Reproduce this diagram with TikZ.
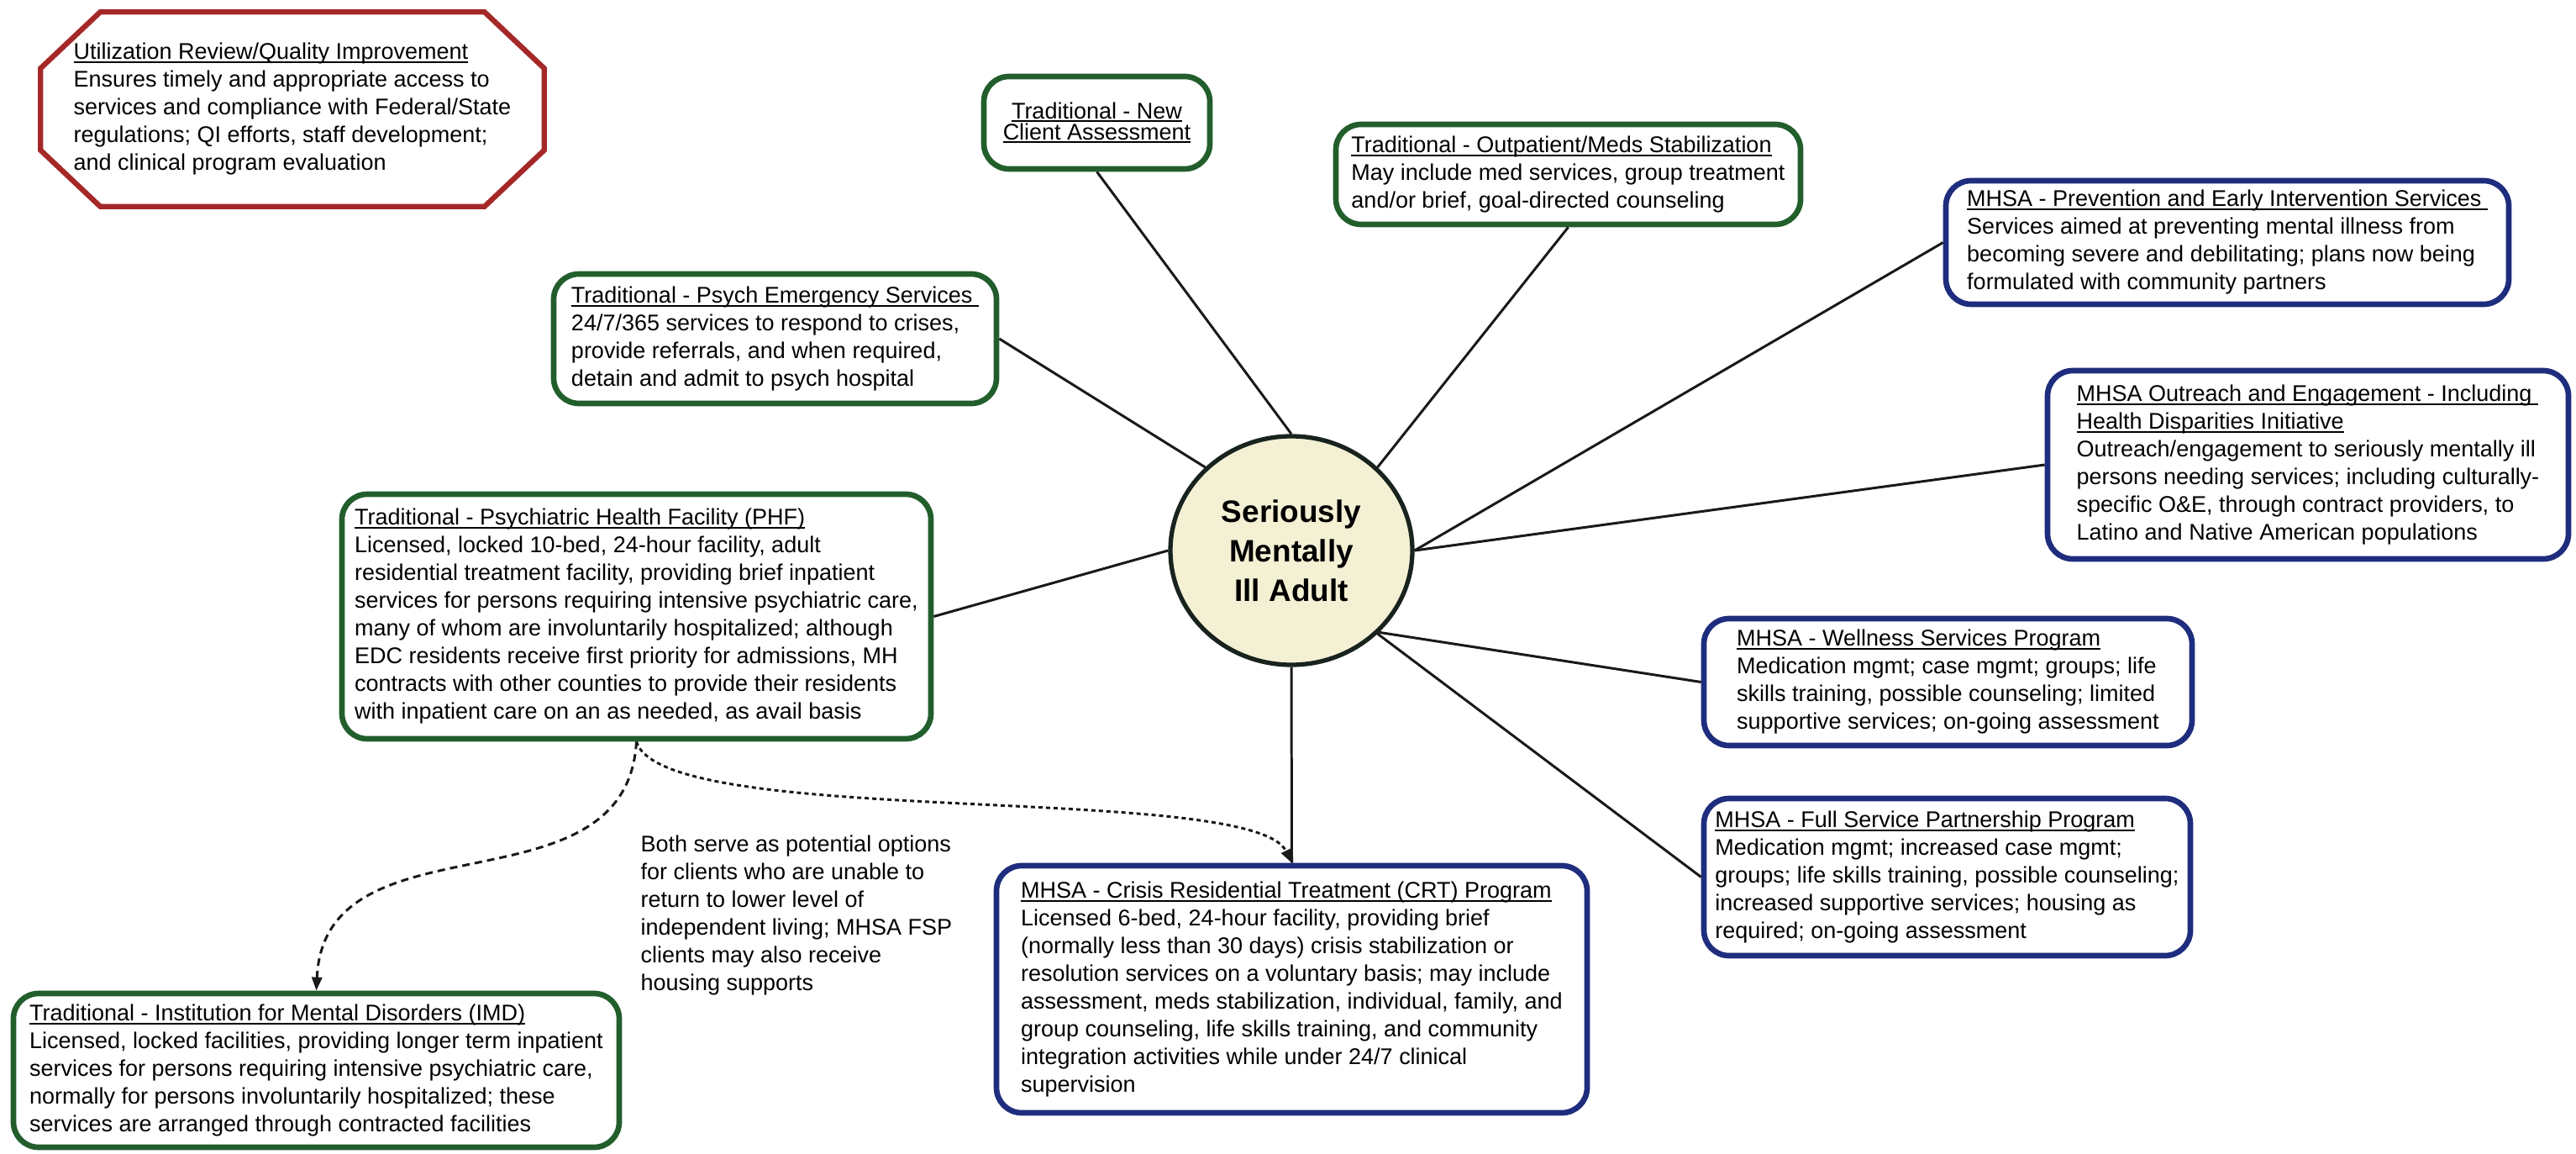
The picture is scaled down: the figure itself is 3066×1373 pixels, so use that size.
\documentclass[tikz,border=0pt]{standalone}
\usepackage{fontspec}
\setmainfont{Liberation Sans}
\usetikzlibrary{shapes.geometric,arrows.meta,calc}
\definecolor{bxgreen}{RGB}{34,94,44}
\definecolor{bxblue}{RGB}{30,45,125}
\definecolor{bxred}{RGB}{165,40,40}
\definecolor{hubfill}{RGB}{243,240,212}
\definecolor{hubline}{RGB}{25,35,30}
\newsavebox\ttlbox
\newcommand\ttl[1]{\sbox\ttlbox{#1}\rlap{\rule[-1.2pt]{\wd\ttlbox}{0.6pt}}\usebox\ttlbox}
\tikzset{
  txt/.style={font=\fontsize{7.68pt}{9.39pt}\selectfont, align=left},
  gbox/.style={txt, draw=bxgreen, line width=1.9pt, rounded corners=3mm, fill=white, inner sep=0pt},
  bbox/.style={txt, draw=bxblue, line width=1.9pt, rounded corners=3mm, fill=white, inner sep=0pt},
  octo/.style={draw=bxred, line width=1.8pt, line join=miter},
  conn/.style={draw=black!90, line width=0.85pt},
  dshA/.style={draw=black!90, line width=0.85pt, dash pattern=on 0.9mm off 0.6mm, -{Triangle[length=1.6mm,width=1.2mm]}},
  dshB/.style={draw=black!90, line width=0.85pt, dash pattern=on 0.5mm off 0.4mm, -{Triangle[length=1.6mm,width=1.2mm]}},
  hub/.style={ellipse, draw=hubline, line width=1.5pt, fill=hubfill, inner sep=0pt,
     minimum width=28.8mm, minimum height=27.2mm, align=center,
     font=\fontsize{10.5pt}{13.37pt}\selectfont\bfseries}
}
\begin{document}
\begin{tikzpicture}[x=0.1mm, y=-0.1mm]
\useasboundingbox (0,0) rectangle (3066,1373);
\fill[white] (0,0) rectangle (3066,1373);

% Utilization review octagon
\node[txt, minimum width=59.8mm, minimum height=23.0mm, inner sep=0pt] (ur) at (348,130) {%
\ttl{Utilization Review/Quality Improvement}\\
Ensures timely and appropriate access to\\
services and compliance with Federal/State\\
regulations; QI efforts, staff development;\\
and clinical program evaluation};
\draw[octo] ([xshift=7.1mm]ur.north west) -- ([xshift=-7.1mm]ur.north east)
  -- ([yshift=-6.7mm]ur.north east) -- ([yshift=6.7mm]ur.south east)
  -- ([xshift=-7.1mm]ur.south east) -- ([xshift=7.1mm]ur.south west)
  -- ([yshift=6.7mm]ur.south west) -- ([yshift=-6.7mm]ur.north west) -- cycle;

% hub
\node[hub] (c) at (1537,655) {Seriously\\Mentally\\Ill Adult};

% traditional (green) boxes
\node[gbox, align=center, font=\fontsize{7.68pt}{7.11pt}\selectfont, minimum width=26.9mm, minimum height=11.0mm] (ne) at (1305.5,146) {%
\ttl{Traditional - New}\\\ttl{Client Assessment}};

\node[gbox, minimum width=55.3mm, minimum height=11.9mm] (op) at (1866.5,207.5) {%
\ttl{Traditional - Outpatient/Meds Stabilization}\\
May include med services, group treatment\\
and/or brief, goal-directed counseling};

\node[gbox, minimum width=52.7mm, minimum height=15.4mm] (pe) at (922.5,403) {%
\ttl{Traditional - Psych Emergency Services\ }\\
24/7/365 services to respond to crises,\\
provide referrals, and when required,\\
detain and admit to psych hospital};

\node[gbox, minimum width=70.1mm, minimum height=29.1mm] (phf) at (757.5,733.5) {%
\ttl{Traditional - Psychiatric Health Facility (PHF)}\\
Licensed, locked 10-bed, 24-hour facility, adult\\
residential treatment facility, providing brief inpatient\\
services for persons requiring intensive psychiatric care,\\
many of whom are involuntarily hospitalized; although\\
EDC residents receive first priority for admissions, MH\\
contracts with other counties to provide their residents\\
with inpatient care on an as needed, as avail basis};

\node[gbox, minimum width=72.1mm, minimum height=18.3mm] (imd) at (376.5,1273.5) {%
\ttl{Traditional - Institution for Mental Disorders (IMD)}\\
Licensed, locked facilities, providing longer term inpatient\\
services for persons requiring intensive psychiatric care,\\
normally for persons involuntarily hospitalized; these\\
services are arranged through contracted facilities};

% MHSA (blue) boxes
\node[bbox, minimum width=70.3mm, minimum height=29.4mm] (crt) at (1537.5,1177) {%
\ttl{MHSA - Crisis Residential Treatment (CRT) Program}\\
Licensed 6-bed, 24-hour facility, providing brief\\
(normally less than 30 days) crisis stabilization or\\
resolution services on a voluntary basis; may include\\
assessment, meds stabilization, individual, family, and\\
group counseling, life skills training, and community\\
integration activities while under 24/7 clinical\\
supervision};

\node[bbox, minimum width=67.0mm, minimum height=14.7mm] (prev) at (2651,288.5) {%
\ttl{MHSA - Prevention and Early Intervention Services\ }\\
Services aimed at preventing mental illness from\\
becoming severe and debilitating; plans now being\\
formulated with community partners};

\node[bbox, minimum width=62.0mm, minimum height=22.4mm] (out) at (2747,553) {%
\ttl{MHSA Outreach and Engagement - Including\ }\\
\ttl{Health Disparities Initiative}\\
Outreach/engagement to seriously mentally ill\\
persons needing services; including culturally-\\
specific O\&E, through contract providers, to\\
Latino and Native American populations};

\node[bbox, minimum width=58.1mm, minimum height=15.1mm] (well) at (2318.5,811.5) {%
\ttl{MHSA - Wellness Services Program}\\
Medication mgmt; case mgmt; groups; life\\
skills training, possible counseling; limited\\
supportive services; on-going assessment};

\node[bbox, minimum width=57.9mm, minimum height=18.7mm] (fsp) at (2317.5,1043.5) {%
\ttl{MHSA - Full Service Partnership Program}\\
Medication mgmt; increased case mgmt;\\
groups; life skills training, possible counseling;\\
increased supportive services; housing as\\
required; on-going assessment};

% note text
\node[txt, anchor=north west, inner sep=0pt] (both) at (762,993) {%
Both serve as potential options\\
for clients who are unable to\\
return to lower level of\\
independent living; MHSA FSP\\
clients may also receive\\
housing supports};

% connectors
\draw[conn] (c.north) -- (ne.south);
\draw[conn] (c.44) -- (op.south);
\draw[conn] (c.136) -- (pe.east);
\draw[conn] (c.west) -- (phf.east);
\draw[conn] (c.south) -- (crt.north);
\draw[conn] (c.east) -- (prev.west);
\draw[conn] (c.east) -- (out.west);
\draw[conn] (c.-43) -- (well.west);
\draw[conn] (c.-44) -- (fsp.west);

% dashed arrows
\draw[dshA] (phf.south) .. controls +(-12,210) and +(10,-215) .. (imd.north);
\draw[dshB] (phf.south) .. controls +(31,105) and +(-47,-97) .. (crt.north);
\end{tikzpicture}
\end{document}
